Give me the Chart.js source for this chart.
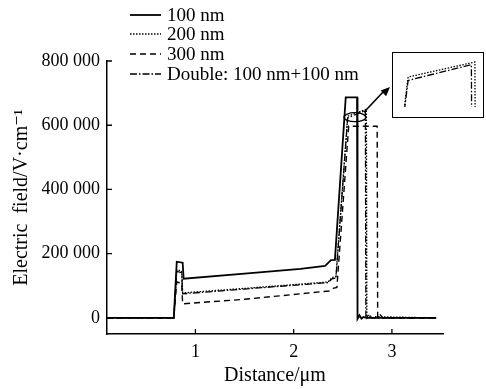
<!DOCTYPE html>
<html lang="en">
<head>
<meta charset="UTF-8">
<title>Electric field vs distance</title>
<script src="https://cdn.jsdelivr.net/npm/chart.js"></script>
<style>
    body { margin: 0; background: #fff; }
    #wrap { position: relative; width: 486px; height: 389px; }
    #inset {
        position: absolute; left: 392px; top: 52px;
        width: 90px; height: 64px;
        border: 1.5px solid #000; background: #fff;
    }
</style>
</head>
<body>
<div id="wrap">
    <canvas id="main" width="486" height="389"></canvas>
    <div id="inset"><canvas id="zoom" width="90" height="64"></canvas></div>
</div>
<script>
// values (x in um, y in V/cm)
const x100 = [0.1, 0.4, 0.78, 0.81, 0.87, 0.88, 1.5, 2.07, 2.32, 2.38, 2.42, 2.53, 2.645, 2.65, 2.67, 2.69, 2.71, 2.74, 3.45];
const y100 = [0, 0, 0, 175000, 172000, 122000, 138000, 153000, 162000, 180000, 181000, 687000, 687000, -3000, 8000, -2000, 3000, 0, 0];

const x200 = [0.1, 0.78, 0.81, 0.86, 0.87, 1.5, 2.35, 2.39, 2.43, 2.55, 2.74, 2.745, 2.77, 2.8, 2.83, 3.45];
const y200 = [0, 0, 150000, 146000, 78000, 92000, 112000, 126000, 128000, 628000, 650000, 0, 10000, 0, 4000, 0];

const x300 = [0.1, 0.78, 0.81, 0.86, 0.87, 1.5, 2.36, 2.40, 2.44, 2.56, 2.85, 2.855, 2.88, 2.91, 3.45];
const y300 = [0, 0, 112000, 108000, 44000, 58000, 84000, 92000, 95000, 597000, 597000, 0, 10000, 0, 0];

const xDbl = [0.1, 0.78, 0.81, 0.86, 0.87, 1.5, 2.35, 2.39, 2.43, 2.55, 2.73, 2.735, 2.76, 2.79, 3.45];
const yDbl = [0, 0, 145000, 141000, 75000, 90000, 110000, 122000, 124000, 623000, 646000, 0, 8000, 0, 0];

const labels = ['100 nm', '200 nm', '300 nm', 'Double: 100 nm+100 nm'];
const xTicks = [1, 2, 3];
const yTicks = [0, 200000, 400000, 600000, 800000];

const serif = '"Liberation Serif", "DejaVu Serif", serif';

function pts(xs, ys) {
    return xs.map((x, i) => ({ x: x, y: ys[i] }));
}

const styles = [
    { borderWidth: 1.8, borderDash: [] },
    { borderWidth: 1.3, borderDash: [1.5, 1.5] },
    { borderWidth: 1.4, borderDash: [6, 4] },
    { borderWidth: 1.3, borderDash: [7, 2, 1.5, 2] },
];

function makeSets(list) {
    return list.map(d => ({
        label: labels[d.idx],
        data: pts(d.x, d.y),
        borderColor: '#000',
        borderWidth: styles[d.idx].borderWidth,
        borderDash: styles[d.idx].borderDash,
        pointRadius: 0,
        tension: 0,
        fill: false,
    }));
}

const series = [
    { idx: 0, x: x100, y: y100 },
    { idx: 1, x: x200, y: y200 },
    { idx: 2, x: x300, y: y300 },
    { idx: 3, x: xDbl, y: yDbl },
];

// inward tick marks, ellipse, arrow and the legend
const decor = {
    id: 'decor',
    afterDraw(chart) {
        const ctx = chart.ctx;
        const xs = chart.scales.x, ys = chart.scales.y;
        const a = chart.chartArea;
        ctx.save();
        ctx.strokeStyle = '#000';
        ctx.lineWidth = 1.3;
        ctx.setLineDash([]);
        ctx.beginPath();
        xTicks.forEach(v => {
            const px = xs.getPixelForValue(v);
            ctx.moveTo(px, a.bottom); ctx.lineTo(px, a.bottom - 5);
        });
        yTicks.forEach(v => {
            const py = ys.getPixelForValue(v);
            ctx.moveTo(a.left, py); ctx.lineTo(a.left + 5, py);
        });
        ctx.stroke();

        // ellipse round the peak
        const cx = xs.getPixelForValue(2.624), cy = ys.getPixelForValue(625000);
        ctx.lineWidth = 1.3;
        ctx.beginPath();
        ctx.ellipse(cx, cy, 11, 4.5, 0, 0, Math.PI * 2);
        ctx.stroke();

        // arrow to the inset
        const x0 = cx + 9, y0 = cy - 5, x1 = 390, y1 = 87;
        ctx.lineWidth = 1.6;
        ctx.beginPath();
        ctx.moveTo(x0, y0); ctx.lineTo(x1 - 6, y1 + 4);
        ctx.stroke();
        const ang = Math.atan2(y1 - y0, x1 - x0);
        ctx.fillStyle = '#000';
        ctx.beginPath();
        ctx.moveTo(x1, y1);
        ctx.lineTo(x1 - 10 * Math.cos(ang - 0.4), y1 - 10 * Math.sin(ang - 0.4));
        ctx.lineTo(x1 - 10 * Math.cos(ang + 0.4), y1 - 10 * Math.sin(ang + 0.4));
        ctx.closePath();
        ctx.fill();

        // legend
        ctx.font = '19px ' + serif;
        ctx.textBaseline = 'middle';
        ctx.fillStyle = '#000';
        const rows = [15, 34, 54, 74];
        labels.forEach((t, i) => {
            ctx.lineWidth = styles[i].borderWidth;
            ctx.setLineDash(styles[i].borderDash);
            ctx.beginPath();
            ctx.moveTo(130, rows[i]); ctx.lineTo(161, rows[i]);
            ctx.stroke();
            ctx.fillText(t, 167, rows[i] + 1);
        });
        ctx.restore();
    }
};

new Chart(document.getElementById('main'), {
    type: 'line',
    data: { datasets: makeSets(series) },
    options: {
        responsive: false,
        animation: false,
        layout: { padding: { top: 61, right: 43, left: 0, bottom: 0 } },
        plugins: { legend: { display: false }, tooltip: { enabled: false } },
        scales: {
            x: {
                type: 'linear',
                min: 0.1, max: 3.52,
                afterBuildTicks: s => { s.ticks = xTicks.map(v => ({ value: v })); },
                afterFit: s => { s.height = 55; },
                grid: { display: false, drawTicks: false },
                border: { display: true, color: '#000', width: 1.5 },
                ticks: { color: '#000', font: { family: serif, size: 18 }, padding: 7, maxRotation: 0 },
                title: { display: true, text: 'Distance/μm', color: '#000', font: { family: serif, size: 20 }, padding: { top: 0, bottom: 1 } },
            },
            y: {
                min: -50000, max: 800000,
                afterBuildTicks: s => { s.ticks = yTicks.map(v => ({ value: v })); },
                afterFit: s => { s.width = 107; },
                grid: { display: false, drawTicks: false },
                border: { display: true, color: '#000', width: 1.5 },
                ticks: {
                    color: '#000', font: { family: serif, size: 18 }, padding: 7,
                    callback: v => v === 0 ? '0' : String(v).replace(/\B(?=(\d{3})+(?!\d))/g, ' '),
                },
                title: { display: true, text: 'Electric  field/V·cm⁻¹', color: '#000', font: { family: serif, size: 20 }, padding: { top: 10, bottom: 0 } },
            },
        },
    },
    plugins: [decor],
});

// inset: close-up of the 200 nm and double-layer peaks
new Chart(document.getElementById('zoom'), {
    type: 'line',
    data: { datasets: makeSets([series[1], series[3]]) },
    options: {
        responsive: false,
        animation: false,
        layout: { padding: { bottom: 10 } },
        plugins: { legend: { display: false }, tooltip: { enabled: false } },
        scales: {
            x: { type: 'linear', display: false, min: 2.507, max: 2.763 },
            y: { display: false, min: 584000, max: 663200 },
        },
    },
});
</script>
</body>
</html>
